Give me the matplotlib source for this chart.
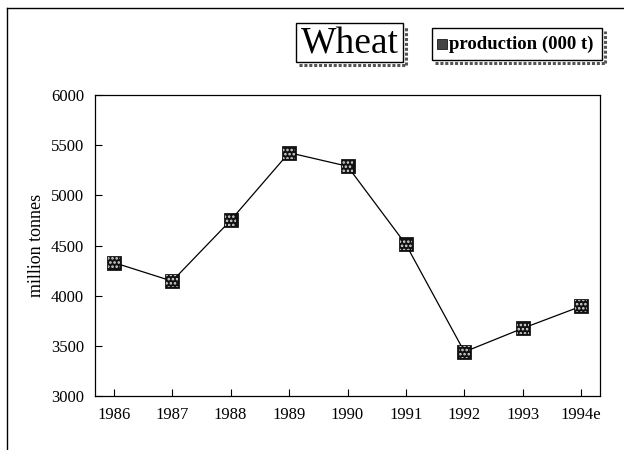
import matplotlib
matplotlib.use("Agg")
import matplotlib.pyplot as plt
from matplotlib.patches import Rectangle
from matplotlib.lines import Line2D

years = ["1986", "1987", "1988", "1989", "1990", "1991", "1992", "1993", "1994e"]
production = [4330, 4145, 4750, 5425, 5290, 4510, 3440, 3675, 3895]
yticks = [3000, 3500, 4000, 4500, 5000, 5500, 6000]

plt.rcParams["font.family"] = ["Liberation Serif", "DejaVu Serif"]
plt.rcParams["hatch.linewidth"] = 1.2

W, H = 624, 450
fig = plt.figure(figsize=(W / 100, H / 100), dpi=100)
ax = fig.add_axes([95 / W, 1 - 396 / H, 505 / W, 301 / H])

x = list(range(len(years)))
ax.plot(x, production, color="black", lw=0.9, zorder=2)
ax.scatter(x, production, marker="s", s=88, facecolor="#111111", edgecolor="black", lw=0.5, zorder=3)
ax.scatter(x, production, marker="s", s=70, facecolor="none", edgecolor="#dddddd", hatch="....", lw=0, zorder=4)

ax.set_xlim(-0.32, len(years) - 1 + 0.32)
ax.set_ylim(3000, 6000)
ax.set_xticks(x)
ax.set_xticklabels(years)
ax.set_yticks(yticks)
ax.tick_params(direction="in", length=5, width=0.8, labelsize=12, pad=8)
for sp in ax.spines.values():
    sp.set_linewidth(0.9)
ax.set_ylabel("million tonnes", fontsize=13, labelpad=4)

def shadow_box(x0, y0, x1, y1):
    # pixel coords from top-left
    fx0, fx1 = x0 / W, x1 / W
    fy0, fy1 = 1 - y1 / H, 1 - y0 / H
    off = 2.5
    fig.add_artist(Line2D([fx1 + off / W, fx1 + off / W], [fy0 - off / H, fy1 - 3 / H],
                          transform=fig.transFigure, color="#555555", lw=2.2, ls=(0, (1, 0.6))))
    fig.add_artist(Line2D([fx0 + 3 / W, fx1 + off / W], [fy0 - off / H, fy0 - off / H],
                          transform=fig.transFigure, color="#555555", lw=2.2, ls=(0, (1, 0.6))))
    fig.add_artist(Rectangle((fx0, fy0), fx1 - fx0, fy1 - fy0, transform=fig.transFigure,
                             facecolor="white", edgecolor="black", lw=1.0))
    return fx0, fy0, fx1, fy1

bx = shadow_box(296, 23, 403, 62)
fig.text((bx[0] + bx[2]) / 2, (bx[1] + bx[3]) / 2 - 0.003, "Wheat", fontsize=27,
         ha="center", va="center")

lx = shadow_box(432, 28, 602, 60)
mx = 442 / W
my = (lx[1] + lx[3]) / 2
fig.add_artist(Line2D([mx], [my], transform=fig.transFigure, marker="s", markersize=6.5,
                      color="black", mfc="#444444", mew=0.5))
fig.text(449 / W, my, "production (000 t)", fontsize=13.5, fontweight="bold",
         ha="left", va="center")

# outer frame
fig.add_artist(Line2D([7 / W, 1], [1 - 8 / H, 1 - 8 / H], transform=fig.transFigure, color="black", lw=1.0))
fig.add_artist(Line2D([7 / W, 7 / W], [0, 1 - 8 / H], transform=fig.transFigure, color="black", lw=1.0))

fig.savefig("out.png", dpi=100)
